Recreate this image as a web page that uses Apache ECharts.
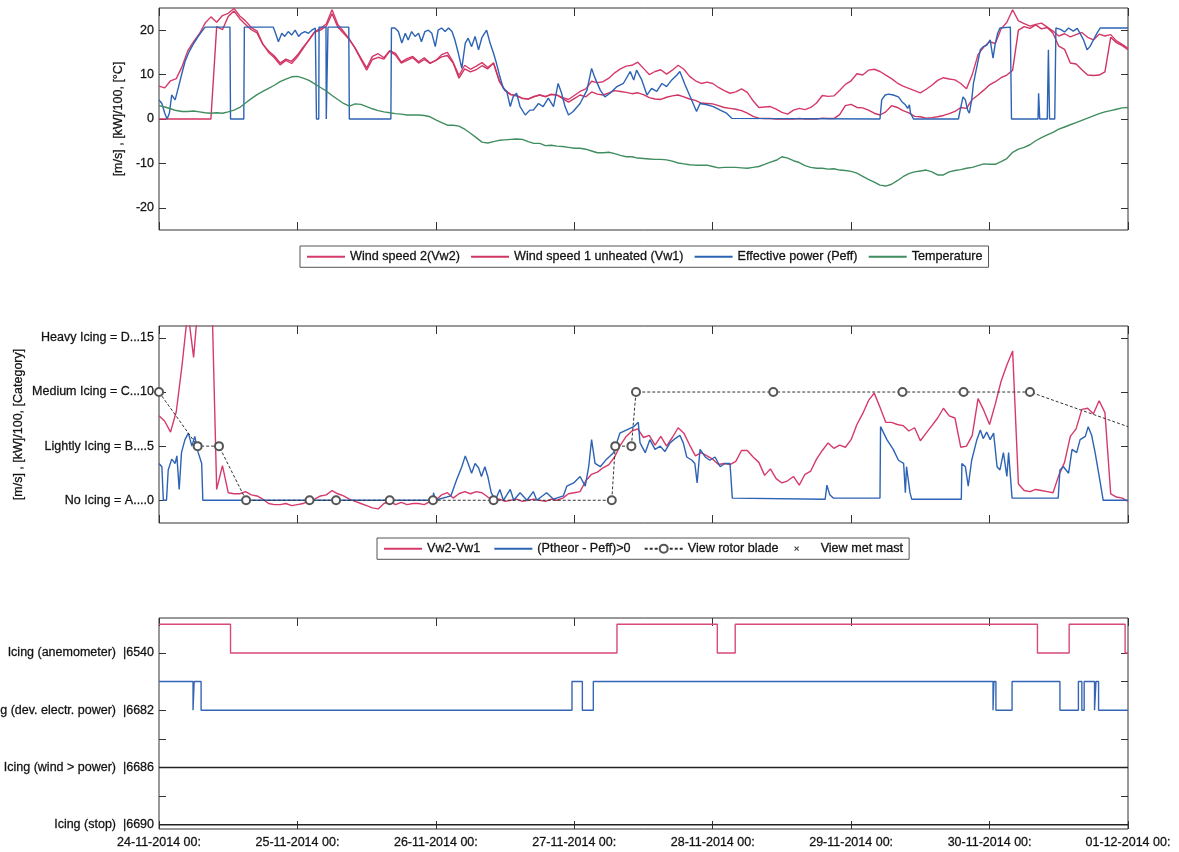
<!DOCTYPE html>
<html>
<head>
<meta charset="utf-8">
<title>Icing indicators – 24-11-2014 to 01-12-2014</title>
<script src="https://cdn.jsdelivr.net/npm/echarts@6.0.0/dist/echarts.min.js"></script>
<style>
  html, body { margin: 0; padding: 0; background: #fff; }
  #chart { width: 1179px; height: 852px; }
</style>
</head>
<body>
<div id="chart"></div>
<script>
// ---- shared time axis: hours since 24-11-2014 00:00 ----
const dayTicks = [0, 24, 48, 72, 96, 120, 144, 168];
const dayLabels = ['24-11-2014 00:', '25-11-2014 00:', '26-11-2014 00:', '27-11-2014 00:',
                   '28-11-2014 00:', '29-11-2014 00:', '30-11-2014 00:', '01-12-2014 00:'];

// ---- panel 1: hourly wind speeds [m/s] and temperature [°C], hour 0..168 ----
const vw2 = [
  7.4, 7.0, 8.6, 9.1, 11.8, 15.4, 17.4, 19.2, 21.6, 23.0,
  21.8, 23.3, 23.8, 24.9, 23.2, 22.1, 20.6, 19.8, 16.9, 15.0,
  13.8, 12.2, 13.2, 12.5, 14.0, 15.9, 17.8, 19.7, 20.4, 21.4,
  24.6, 21.3, 19.7, 18.0, 15.9, 13.4, 11.0, 13.4, 13.9, 13.5,
  15.3, 14.4, 12.6, 13.2, 13.8, 12.6, 13.4, 12.5, 13.2, 14.5,
  15.0, 12.8, 9.8, 12.1, 11.2, 11.9, 12.7, 11.6, 12.6, 8.6,
  6.4, 5.5, 5.3, 4.6, 4.5, 5.1, 5.4, 5.0, 5.6, 5.4,
  4.8, 4.4, 5.3, 6.2, 6.8, 8.5, 8.2, 8.4, 9.2, 10.4,
  11.3, 11.9, 12.1, 12.8, 11.4, 10.0, 10.7, 11.1, 10.1, 11.0,
  12.1, 11.2, 9.6, 8.6, 8.0, 8.3, 8.0, 7.1, 6.4, 5.8,
  6.1, 6.8, 6.0, 4.1, 2.6, 2.7, 2.8, 2.2, 1.5, 1.1,
  2.0, 2.4, 2.1, 2.6, 3.6, 5.3, 5.1, 5.2, 6.4, 7.8,
  8.6, 10.2, 9.9, 11.0, 11.2, 10.7, 9.9, 9.1, 8.1, 7.4,
  6.9, 6.4, 5.9, 6.7, 7.6, 8.7, 9.3, 9.0, 8.8, 8.0,
  6.8, 10.0, 14.5, 16.2, 17.4, 17.0, 20.3, 21.8, 24.6, 22.1,
  21.5, 20.9, 21.3, 21.6, 20.7, 19.8, 18.7, 19.2, 18.5, 19.0,
  19.5, 18.4, 17.8, 19.1, 18.7, 19.0, 17.6, 16.8, 15.9
];
const vw1 = [
  0, 0, 0, 0, 0, 0, 0, 0, 0, 0,
  20.8, 20.1, 23.1, 24.3, 22.6, 21.3, 20.1, 19.4, 16.8, 15.3,
  14.2, 12.6, 13.5, 13.0, 14.4, 16.2, 17.8, 19.6, 20.0, 20.9,
  23.7, 20.7, 19.3, 17.9, 16.0, 13.7, 11.5, 14.1, 14.7, 13.8,
  15.4, 14.8, 12.8, 13.6, 14.1, 12.9, 13.8, 12.6, 13.2, 14.0,
  14.3, 12.6, 9.2, 11.3, 10.6, 11.1, 12.0, 11.3, 12.6, 8.5,
  6.5, 5.5, 5.2, 4.7, 4.5, 5.0, 5.4, 5.1, 5.5, 5.4,
  4.6, 3.8, 4.6, 5.4, 5.0, 6.1, 5.6, 5.4, 5.9, 6.4,
  6.2, 6.0, 5.7, 5.9, 5.5, 4.8, 4.5, 4.4, 4.9, 5.2,
  5.4, 5.0, 4.5, 4.2, 3.6, 3.5, 3.4, 3.0, 2.6, 2.4,
  2.2, 1.9, 1.3, 0.6, 0.2, 0.1, 0.1, 0.0, 0.0, 0.0,
  0.0, 0.1, 0.0, 0.0, 0.0, 0.2, 0.1, 0.1, 1.0, 3.0,
  3.3, 2.6, 2.5, 2.0, 1.3, 0.9, 1.6, 3.0, 2.6, 1.9,
  1.4, 0.6, 0.5, 0.2, 0.3, 0.5, 0.8, 1.2, 1.7, 2.6,
  2.4, 4.4, 5.4, 6.5, 7.7, 8.4, 9.3, 9.9, 11.0, 20.0,
  20.8, 20.4, 21.2, 20.3, 20.6, 19.3, 16.4, 15.7, 12.6, 12.4,
  11.1, 9.9, 9.8, 9.9, 10.6, 18.4, 17.2, 16.5, 15.6
];
const temperature = [
  3.0, 2.7, 2.3, 1.9, 1.7, 1.7, 1.8, 1.6, 1.4, 1.3,
  1.4, 1.3, 1.6, 2.0, 2.6, 3.6, 4.6, 5.5, 6.2, 6.9,
  7.6, 8.4, 9.0, 9.5, 9.6, 9.2, 8.7, 7.9, 7.1, 6.3,
  5.3, 4.4, 3.5, 2.9, 3.4, 3.3, 2.8, 2.3, 1.9, 1.6,
  1.4, 1.2, 1.1, 0.9, 0.9, 0.9, 0.8, 0.5, -0.2, -0.8,
  -1.4, -1.4, -1.6, -2.3, -3.2, -4.2, -5.2, -5.4, -5.1, -4.8,
  -4.7, -4.6, -4.5, -4.6, -5.1, -5.5, -5.5, -6.0, -5.9, -6.1,
  -6.2, -6.4, -6.6, -6.6, -6.8, -7.2, -7.6, -7.6, -7.5, -7.8,
  -8.2, -8.5, -8.5, -8.8, -8.9, -9.0, -9.1, -9.1, -9.2, -9.5,
  -9.9, -10.1, -10.3, -10.4, -10.4, -10.4, -10.7, -11.0, -10.9, -10.9,
  -10.9, -11.0, -11.1, -10.9, -10.7, -10.2, -9.7, -9.3, -8.5, -8.8,
  -9.4, -9.8, -10.5, -10.9, -11.1, -11.1, -11.3, -11.2, -11.5, -11.6,
  -11.8, -12.2, -12.9, -13.6, -14.2, -14.9, -15.1, -14.7, -13.9, -13.0,
  -12.3, -11.9, -11.7, -11.5, -11.9, -12.6, -12.6, -11.9, -11.6, -11.4,
  -11.1, -10.9, -10.5, -10.1, -10.2, -10.2, -9.6, -8.9, -7.5, -6.8,
  -6.4, -5.8, -4.9, -4.2, -3.6, -3.0, -2.3, -1.8, -1.3, -0.8,
  -0.3, 0.2, 0.7, 1.2, 1.6, 1.9, 2.2, 2.5, 2.6
];

// effective power / 100 [kW], irregular sample times (hours)
const peffHours = [
  0, 0.5, 1.0, 1.4, 1.8, 2.2, 2.8, 3.4, 3.9, 4.5,
  5.1, 5.7, 6.2, 6.8, 7.4, 8.0, 12.3, 12.4, 14.7, 14.8,
  19.8, 20.1, 20.7, 21.3, 21.8, 22.4, 23.0, 23.6, 24.2, 24.7,
  25.3, 25.9, 26.5, 27.1, 27.25, 27.3, 27.7, 27.75, 28.95, 29.0,
  29.25, 29.3, 32.9, 33.0, 40.2, 40.3, 40.9, 41.5, 42.1, 42.7,
  43.2, 43.8, 44.4, 45.0, 45.5, 46.1, 46.7, 47.3, 47.9, 48.4,
  49.0, 49.6, 50.2, 50.8, 51.3, 51.9, 52.5, 53.1, 53.6, 54.2,
  54.8, 55.4, 56.0, 56.8, 57.4, 58.0, 58.5, 59.1, 59.7, 60.3,
  60.9, 61.4, 62.0, 62.6, 63.5, 64.3, 64.9, 65.8, 66.6, 67.5,
  68.4, 69.2, 69.8, 70.4, 71.0, 71.8, 73.0, 74.2, 75.0, 75.6,
  76.5, 77.3, 78.2, 79.4, 80.5, 81.7, 82.3, 82.8, 83.7, 84.6,
  85.4, 86.3, 87.2, 88.0, 88.9, 89.8, 90.3, 91.2, 92.1, 93.2,
  93.8, 95.0, 96.1, 97.3, 98.4, 99.3, 99.6, 125.0, 125.3, 125.9,
  126.5, 127.3, 128.2, 128.8, 129.4, 129.8, 130.1, 130.3, 130.8, 138.6,
  138.9, 139.4, 139.8, 140.2, 140.5, 140.9, 141.2, 141.8, 142.4, 142.9,
  143.5, 144.1, 144.6, 145.0, 145.4, 145.8, 146.1, 147.6, 147.8, 152.4,
  152.5, 152.7, 154.0, 154.2, 154.4, 155.3, 155.5, 156.3, 157.0, 157.7,
  158.5, 159.2, 159.7, 160.3, 160.9, 161.4, 162.0, 162.6, 163.2, 168
];
const peffValues = [
  4.3, 3.5, 1.3, 0, 1.3, 5.4, 4.3, 7.3, 9.9, 12.9,
  14.8, 16.3, 17.4, 18.6, 19.7, 20.7, 20.7, 0, 0, 20.7,
  20.7, 19.7, 17.4, 19.3, 18.6, 19.7, 18.9, 20.0, 18.6, 19.3,
  19.7, 19.3, 20.0, 20.5, 20.7, 0, 0, 20.7, 20.7, 0,
  0, 20.7, 20.7, 0, 0, 20.5, 20.5, 19.7, 17.1, 19.3,
  17.8, 19.7, 18.6, 19.3, 17.4, 19.7, 20.0, 19.3, 16.3, 20.0,
  20.5, 19.7, 20.5, 19.7, 17.8, 14.8, 11.4, 17.1, 18.2, 16.3,
  18.6, 15.6, 18.4, 20.0, 17.1, 14.8, 12.6, 9.5, 6.9, 6.2,
  2.8, 5.0, 5.8, 2.8, 0.9, 2.0, 2.0, 3.5, 2.8, 4.7,
  2.8, 8.0, 5.8, 2.8, 0.9, 1.7, 3.5, 6.5, 11.4, 9.2,
  6.5, 5.0, 5.8, 7.3, 8.0, 10.7, 8.8, 11.0, 8.8, 5.4,
  6.9, 6.2, 8.0, 7.3, 8.8, 9.9, 10.7, 7.7, 5.0, 1.7,
  3.5, 3.2, 2.8, 2.0, 1.3, 0.15, 0, 0, 4.3, 5.4,
  5.6, 5.4, 5.0, 3.9, 3.2, 2.4, 3.2, 1.3, 0, 0,
  2.0, 5.0, 4.3, 2.0, 1.3, 4.3, 8.0, 11.8, 15.6, 16.3,
  16.6, 17.8, 13.7, 17.1, 19.3, 20.5, 20.7, 20.7, 0, 0,
  5.8, 0, 0, 15.6, 0, 0, 20.5, 20.2, 19.6, 20.5,
  19.8, 20.4, 19.3, 17.8, 15.6, 16.3, 17.8, 19.3, 20.5, 20.5
];

// ---- panel 2: icing category indicators ----
const icingTicks = [0, 5, 10, 15];
const icingLabels = ['No Icing = A....0', 'Lightly Icing = B....5', 'Medium Icing = C...10', 'Heavy Icing = D...15'];

// Vw2 - Vw1, hourly 0..168
const vwDiff = [
  7.8, 7.3, 6.3, 8.2, 12.5, 17.5, 13.2, 19.5, 21.2, 22.4,
  1.0, 3.2, 0.7, 0.6, 0.6, 0.8, 0.5, 0.4, 0.1, -0.3,
  -0.4, -0.4, -0.3, -0.5, -0.4, -0.3, 0.0, 0.1, 0.4, 0.5,
  0.9, 0.6, 0.4, 0.1, -0.1, -0.3, -0.5, -0.7, -0.8, -0.3,
  -0.1, -0.4, -0.2, -0.4, -0.3, -0.3, -0.4, -0.1, 0.0, 0.5,
  0.7, 0.2, 0.6, 0.8, 0.6, 0.8, 0.7, 0.3, 0.0, 0.1,
  -0.1, 0.0, 0.1, -0.1, 0.0, 0.1, 0.0, -0.1, 0.1, 0.0,
  0.2, 0.6, 0.7, 0.8, 1.8, 2.4, 2.6, 3.0, 3.3, 4.0,
  5.1, 5.9, 6.4, 6.6, 5.8, 6.0, 5.1, 5.9, 5.0, 5.8,
  6.7, 6.2, 5.1, 4.1, 4.4, 4.1, 3.8, 3.3, 3.4, 3.3,
  3.6, 4.6, 4.6, 4.0, 3.5, 2.3, 2.9, 2.0, 1.6, 1.8,
  2.2, 1.4, 2.4, 2.7, 3.8, 4.6, 5.3, 4.8, 5.1, 4.9,
  5.6, 7.0, 8.0, 9.2, 9.9, 8.6, 7.2, 7.2, 7.0, 6.9,
  6.4, 6.7, 5.5, 6.2, 6.9, 7.6, 8.5, 7.8, 7.6, 4.9,
  5.0, 6.0, 9.4, 8.3, 7.0, 8.9, 11.0, 12.5, 13.8, 1.5,
  0.9, 0.8, 1.0, 0.9, 0.8, 0.7, 2.3, 3.5, 5.9, 6.6,
  8.4, 8.5, 8.0, 9.2, 8.1, 0.6, 0.3, 0.2, -0.1
];

// (Ptheor - Peff) > 0, kW/100, irregular sample times (hours)
const ptheorHours = [
  0, 0.5, 0.75, 1.3, 1.6, 2.2, 2.8, 3.1, 3.5, 3.9,
  4.5, 5.1, 5.7, 6.2, 6.8, 7.4, 7.6, 47.5, 47.6, 47.9,
  50.6, 51.6, 52.5, 53.1, 53.6, 54.2, 54.8, 55.4, 55.9, 56.5,
  57.0, 57.6, 58.3, 59.1, 59.7, 60.9, 61.5, 62.6, 63.8, 64.9,
  65.5, 67.2, 68.4, 70.1, 70.7, 71.9, 73.0, 73.9, 74.5, 75.0,
  75.6, 76.5, 77.6, 78.8, 79.9, 81.1, 82.3, 83.1, 83.4, 84.3,
  85.1, 86.0, 86.9, 87.7, 88.6, 89.5, 90.3, 90.9, 91.5, 92.4,
  92.9, 93.3, 93.8, 94.7, 95.5, 96.4, 97.3, 98.1, 99.0, 99.4,
  115.5, 115.8, 116.3, 116.9, 125.0, 125.1, 126.2, 127.3, 128.2, 129.1,
  129.4, 129.6, 130.2, 130.5, 139.1, 139.2, 139.8, 140.3, 140.9, 141.8,
  142.4, 142.9, 143.5, 144.1, 144.7, 145.3, 145.8, 146.4, 147.0, 147.3,
  147.9, 155.9, 156.2, 156.8, 157.7, 158.3, 159.1, 159.7, 160.6, 161.1,
  161.7, 162.3, 163.2, 163.7, 168
];
const ptheorValues = [
  3.4, 3.1, 0, 0, 2.8, 3.8, 3.4, 4.1, 1.0, 4.4,
  5.6, 6.2, 5.0, 5.9, 4.4, 3.4, 0, 0, 0.7, 0,
  0.4, 1.9, 3.1, 4.1, 3.4, 2.5, 3.4, 3.0, 2.2, 3.1,
  2.2, 0.7, 0, 1.0, 0, 1.0, 0, 0.7, 0, 0.8,
  0, 0.7, 0.1, 0.4, 1.3, 1.6, 2.2, 1.3, 3.1, 5.6,
  3.4, 3.1, 3.8, 4.4, 6.2, 6.5, 6.8, 7.2, 5.3, 4.4,
  5.6, 4.7, 5.0, 4.5, 5.3, 5.7, 6.0, 5.3, 4.0, 3.7,
  3.4, 1.6, 4.7, 4.0, 3.7, 4.0, 3.1, 3.4, 3.4, 0.2,
  0.1, 1.4, 0.5, 0.2, 0.2, 6.8, 5.6, 4.7, 3.7, 3.4,
  0.7, 3.1, 0.7, 0.1, 0.1, 3.4, 3.1, 1.3, 3.7, 5.6,
  6.5, 5.7, 6.3, 5.6, 6.2, 3.1, 2.8, 4.4, 2.2, 4.4,
  0.2, 0.2, 2.8, 3.1, 2.5, 4.7, 4.4, 5.6, 5.9, 6.8,
  6.0, 4.4, 1.6, 0, 0
];

// category assessed from rotor blade inspection
const rotorHours = [0, 6.7, 10.4, 15.1, 26.1, 30.7, 40.0, 47.5, 58.0, 78.5, 79.1, 81.9, 82.7, 106.5, 128.9, 139.5, 151.0, 168];
const rotorLevel = [10, 5, 5, 0, 0, 0, 0, 0, 0, 0, 5, 5, 10, 10, 10, 10, 10, 6.8];

// ---- panel 3: status code rows (row position on the axis) ----
const statusTicks = [0, 2, 4, 6];
const statusLabels = ['Icing (stop)  |6690', 'Icing (wind > power)  |6686', 'Icing (dev. electr. power)  |6682', 'Icing (anemometer)  |6540'];
const anemoHours = [0, 12.4, 79.4, 96.8, 99.9, 152.3, 157.8, 167.5, 168];
const anemoLevel = [7, 6, 7, 6, 7, 6, 7, 6, 6];
const powerDevHours = [0, 5.9, 6.1, 7.3, 71.6, 73.4, 75.3, 144.6, 144.75, 145.1, 147.9, 156.2, 159.4, 160.0, 160.4, 162.2, 162.45, 162.9, 168];
const powerDevLevel = [5, 4, 5, 4, 5, 4, 5, 4, 5, 4, 5, 4, 5, 4, 5, 4, 5, 4, 4];
const windPowerHours = [0, 168];
const windPowerLevel = [2, 2];
const stopHours = [0, 168];
const stopLevel = [0, 0];

// ---- styling ----
const FONT = "'Liberation Sans', Arial, Helvetica, sans-serif";
const AXIS = '#333';
const TXT = '#111';
const RED = '#d63a6a';
const RED2 = '#cf3562';
const BLUE = '#2c63b4';
const GREEN = '#408d60';

// slightly heavier text, like the printed figure
const labelText = { color: TXT, fontSize: 12.5, fontFamily: FONT, textBorderColor: '#333', textBorderWidth: 0.3 };

const hours = vw2.map((_, i) => i);
const pairs = (xs, ys) => xs.map((x, i) => [x, ys[i]]);

function timeAxes(grid, labelled) {
  const base = {
    type: 'value', gridIndex: grid, min: 0, max: 168, interval: 24,
    axisLine: { show: false, onZero: false }, splitLine: { show: false },
    axisTick: { show: true, inside: true, length: 8, lineStyle: { color: AXIS, width: 1 } }
  };
  return [
    Object.assign({}, base, {
      position: 'bottom',
      axisLabel: labelled ? Object.assign({
        show: true, customValues: dayTicks,
        formatter: v => dayLabels[dayTicks.indexOf(v)],
        margin: 7
      }, labelText) : { show: false }
    }),
    Object.assign({}, base, { position: 'top', axisLabel: { show: false } })
  ];
}

function valueAxes(grid, min, max, ticks, labelTicks, fmt, name, nameGap) {
  const tick = { show: true, inside: true, length: 7, customValues: ticks, lineStyle: { color: AXIS, width: 1 } };
  return [
    {
      type: 'value', gridIndex: grid, position: 'left', min: min, max: max,
      axisLine: { show: false, onZero: false }, splitLine: { show: false }, axisTick: tick,
      axisLabel: Object.assign({ show: true, customValues: labelTicks, formatter: fmt, margin: 5 }, labelText),
      name: name || '', nameLocation: 'middle', nameRotate: 90, nameGap: nameGap || 0,
      nameMoveOverlap: false,
      nameTextStyle: labelText
    },
    {
      type: 'value', gridIndex: grid, position: 'right', min: min, max: max,
      axisLine: { show: false, onZero: false }, splitLine: { show: false }, axisTick: tick,
      axisLabel: { show: false }
    }
  ];
}

function line(name, xi, yi, data, color, extra) {
  return Object.assign({
    name: name, type: 'line', xAxisIndex: xi, yAxisIndex: yi, data: data,
    symbol: 'none', silent: true, emphasis: { disabled: true },
    lineStyle: { color: color, width: 1.4 }, itemStyle: { color: color }
  }, extra || {});
}

const gridBox = {
  show: true, borderColor: AXIS, borderWidth: 1, backgroundColor: 'transparent',
  left: 159, right: 51, outerBoundsMode: 'none', containLabel: false
};

const legendBase = {
  orient: 'horizontal', backgroundColor: '#fff', borderColor: '#555', borderWidth: 1, borderRadius: 0,
  padding: [4, 6, 4, 6], itemWidth: 38, itemHeight: 10, selectedMode: false,
  itemStyle: { opacity: 0 },
  textStyle: { color: TXT, fontSize: 12.6, fontFamily: FONT, textBorderColor: '#333', textBorderWidth: 0.3 }
};

const crossIcon = 'path://M0,0M10,10M2.6,3.3L3.3,2.6L5,4.3L6.7,2.6L7.4,3.3L5.7,5L7.4,6.7L6.7,7.4L5,5.7L3.3,7.4L2.6,6.7L4.3,5Z';

const option = {
  animation: false,
  backgroundColor: '#fff',
  textStyle: { fontFamily: FONT },
  grid: [
    Object.assign({ top: 8, height: 222 }, gridBox),
    Object.assign({ top: 326, height: 197 }, gridBox),
    Object.assign({ top: 618, height: 211 }, gridBox)
  ],
  xAxis: [].concat(timeAxes(0, false), timeAxes(1, false), timeAxes(2, true)),
  yAxis: [].concat(
    valueAxes(0, -25, 25, [-20, -10, 0, 10, 20], [-20, -10, 0, 10, 20], v => String(v), '[m/s] , [kW]/100, [°C]', 34),
    valueAxes(1, -2.1, 16.1, icingTicks, icingTicks, v => icingLabels[icingTicks.indexOf(v)], '[m/s] , [kW]/100, [Category]', 134),
    valueAxes(2, -0.15, 7.22, [0, 1, 2, 3, 4, 5, 6], statusTicks, v => statusLabels[statusTicks.indexOf(v)], '', 0)
  ),
  legend: [
    Object.assign({}, legendBase, {
      left: 300, top: 246, itemGap: 10,
      data: ['Wind speed 2(Vw2)', 'Wind speed 1 unheated (Vw1)', 'Effective power (Peff)', 'Temperature']
    }),
    Object.assign({}, legendBase, {
      left: 377, top: 538, itemGap: 13,
      data: ['Vw2-Vw1', '(Ptheor - Peff)>0',
             { name: 'View rotor blade', itemStyle: { opacity: 1 } },
             { name: 'View met mast', itemStyle: { opacity: 1 } }]
    })
  ],
  series: [
    // panel 1
    line('Wind speed 2(Vw2)', 0, 0, pairs(hours, vw2), RED),
    line('Wind speed 1 unheated (Vw1)', 0, 0, pairs(hours, vw1), RED2),
    line('Effective power (Peff)', 0, 0, pairs(peffHours, peffValues), BLUE),
    line('Temperature', 0, 0, pairs(hours, temperature), GREEN),
    // panel 2
    line('Vw2-Vw1', 2, 2, pairs(hours, vwDiff), RED),
    line('(Ptheor - Peff)>0', 2, 2, pairs(ptheorHours, ptheorValues), BLUE),
    line('View rotor blade', 2, 2,
      rotorHours.map((h, i) => i === rotorHours.length - 1 ? { value: [h, rotorLevel[i]], symbol: 'none' } : [h, rotorLevel[i]]),
      '#333', {
        symbol: 'emptyCircle', symbolSize: 8, showSymbol: true, showAllSymbol: true,
        lineStyle: { color: '#333', width: 1, type: [3, 2] },
        itemStyle: { color: '#555', borderWidth: 1 }
      }),
    {
      name: 'View met mast', type: 'scatter', xAxisIndex: 2, yAxisIndex: 2, data: [],
      symbol: crossIcon, symbolSize: 8, itemStyle: { color: '#333' }, silent: true
    },
    // panel 3
    line('Icing (anemometer)', 4, 4, pairs(anemoHours, anemoLevel), '#d8497a', { step: 'end' }),
    line('Icing (dev. electr. power)', 4, 4, pairs(powerDevHours, powerDevLevel), '#3566b6', { step: 'end' }),
    line('Icing (wind > power)', 4, 4, pairs(windPowerHours, windPowerLevel), '#222'),
    line('Icing (stop)', 4, 4, pairs(stopHours, stopLevel), '#222')
  ]
};

const chart = echarts.init(document.getElementById('chart'), null, { renderer: 'canvas' });
chart.setOption(option);
</script>
</body>
</html>
